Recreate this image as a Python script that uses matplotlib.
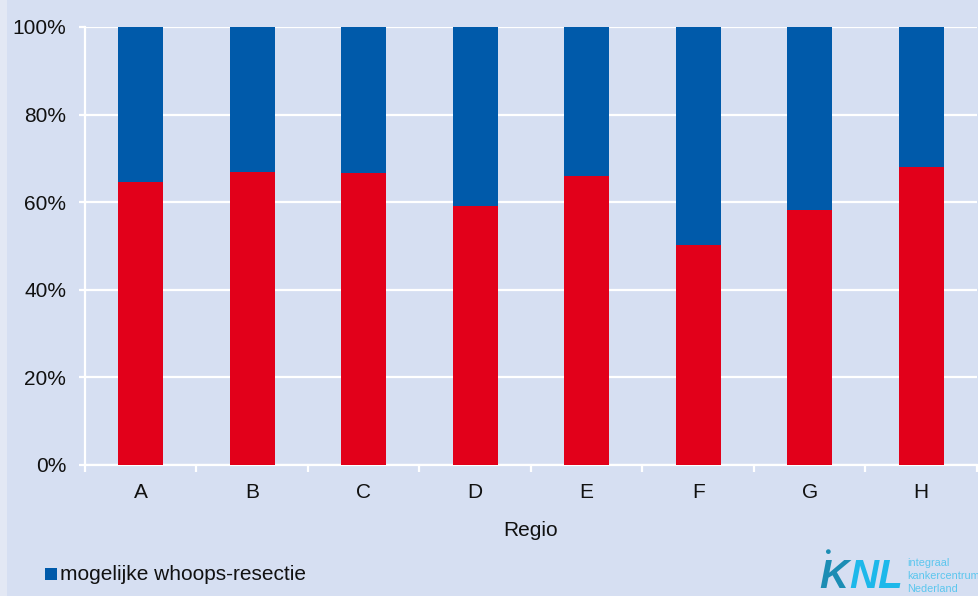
import numpy as np
import matplotlib.pyplot as plt
from matplotlib.patches import Rectangle

# Percentage per region, bottom (red) series; the blue part fills up to 100%
regions = ["A", "B", "C", "D", "E", "F", "G", "H"]
red_share = [64.5, 66.8, 66.7, 59.1, 66.0, 50.2, 58.2, 68.0]
blue_share = [100 - v for v in red_share]
y_ticks = [0, 20, 40, 60, 80, 100]

BG = "#D6DFF2"
RED = "#E2001A"
BLUE = "#005AAA"
FS = 15

plt.rcParams["font.family"] = ["Liberation Sans", "DejaVu Sans"]

fig = plt.figure(figsize=(9.79, 5.96), dpi=100, facecolor=BG)
# slightly lighter strip along the left edge
fig.patches.append(Rectangle((0, 0), 7 / 979, 1, transform=fig.transFigure,
                             facecolor="#E3E8F4", edgecolor="none", zorder=0))

ax = fig.add_axes([85 / 979, 1 - 465 / 596, 892 / 979, 438 / 596])
ax.set_facecolor(BG)

x = np.arange(len(regions))
ax.bar(x, red_share, width=0.4, color=RED, zorder=3)
ax.bar(x, blue_share, width=0.4, bottom=red_share, color=BLUE, zorder=3)

ax.set_xlim(-0.5, len(regions) - 0.5)
ax.set_ylim(0, 100)
ax.set_yticks(y_ticks)
ax.set_yticklabels([f"{t}%" for t in y_ticks], fontsize=FS, color="#111111")
ax.yaxis.grid(True, color="white", linewidth=1.6, zorder=1)
ax.set_axisbelow(True)

# category labels centred on bars, ticks between categories
ax.set_xticks(x)
ax.set_xticklabels(regions, fontsize=FS, color="#111111")
ax.tick_params(axis="x", length=0, pad=13)
ax.set_xticks(np.arange(-0.5, len(regions)), minor=True)
ax.tick_params(axis="x", which="minor", length=5, width=1.6, color="white")
ax.tick_params(axis="y", length=4.5, width=1.6, color="white", pad=9)

for side in ["top", "right"]:
    ax.spines[side].set_visible(False)
ax.spines["left"].set_color("white")
ax.spines["left"].set_linewidth(1.6)
ax.spines["bottom"].set_color("white")
ax.spines["bottom"].set_linewidth(1.6)

ax.set_xlabel("Regio", fontsize=FS, color="#111111", labelpad=14)

# legend entry for the top series
fig.patches.append(Rectangle((45 / 979, 1 - 580 / 596), 12 / 979, 12 / 596,
                             transform=fig.transFigure, facecolor=BLUE,
                             edgecolor="none"))
fig.text(60 / 979, 1 - 574 / 596, "mogelijke whoops-resectie", fontsize=FS,
         color="#111111", va="center", ha="left")

# KNL logo
fig.text(819 / 979, 1 - 577 / 596, "K", fontsize=29, fontweight="bold",
         fontstyle="italic", color="#1C8DB4", va="center", ha="left")
fig.text(824 / 979, 1 - 552 / 596, "\u25CF", fontsize=8, color="#1C8DB4",
         va="center", ha="left")
fig.text(849 / 979, 1 - 577 / 596, "NL", fontsize=29, fontweight="bold",
         fontstyle="italic", color="#1DB8EA", va="center", ha="left")
for i, line in enumerate(["integraal", "kankercentrum", "Nederland"]):
    fig.text(907 / 979, 1 - (563 + 13 * i) / 596, line, fontsize=7.8,
             color="#5CC6EE", va="center", ha="left")

fig.savefig("out.png", dpi=100, facecolor=BG)
